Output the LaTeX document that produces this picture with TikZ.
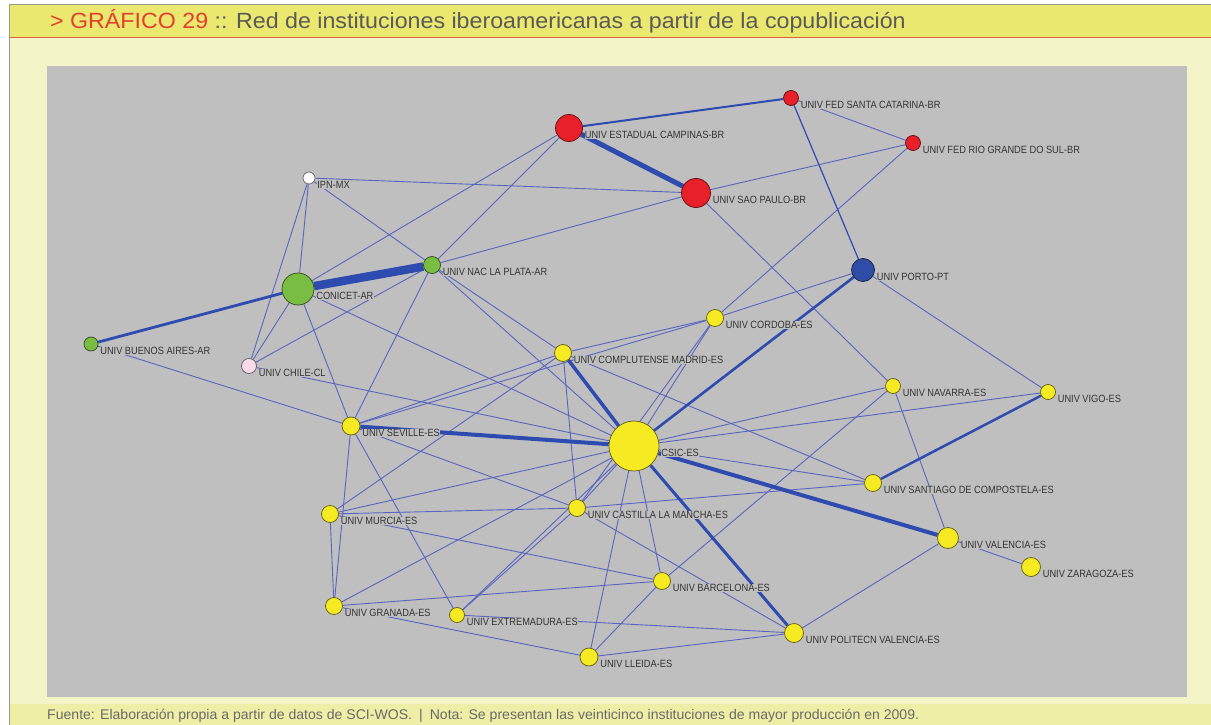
\documentclass[tikz,border=0pt]{standalone}
\usepackage{fontspec}
\setmainfont{Liberation Sans}
\newfontfamily\lblfont[FakeStretch=0.88]{Liberation Sans}
\newfontfamily\titlefont[FakeStretch=1.055]{Liberation Sans}
\newfontfamily\footfont[FakeStretch=1.005]{Liberation Sans}
\usetikzlibrary{calc}
\pgfdeclarelayer{bg}
\pgfdeclarelayer{edges}
\pgfsetlayers{bg,edges,main}
\definecolor{panel}{HTML}{BFBFBF}
\definecolor{cream}{HTML}{F4F4C9}
\definecolor{band}{HTML}{EAE86E}
\definecolor{footband}{HTML}{EFEEA6}
\definecolor{orangeline}{HTML}{D9603A}
\definecolor{framec}{HTML}{9A9A8C}
\definecolor{titlered}{HTML}{E2402F}
\definecolor{titlegray}{HTML}{5A5A5A}
\definecolor{footgray}{HTML}{6A6A6A}
\definecolor{lblc}{HTML}{333333}
\definecolor{thinc}{HTML}{5865BF}
\definecolor{thickc}{HTML}{2E4BB0}
\definecolor{ny}{HTML}{F6EA22}
\definecolor{nr}{HTML}{E8202A}
\definecolor{ng}{HTML}{79BE43}
\definecolor{nb}{HTML}{2E4DA6}
\definecolor{nw}{HTML}{FFFFFF}
\definecolor{np}{HTML}{F9DCE8}
\newcommand\inst[6]{%
  \node[inode,minimum size=#4pt,fill=#5,draw=#5!40!black] (#1) at (#2,#3) {};
  \node[lbl] (#1l) at ($(#1.east)+(1.5,7)$) {#6};}
\begin{document}
\begin{tikzpicture}[x=1pt,y=-1pt,
  inode/.style={circle,inner sep=0pt,line width=0.7pt},
  lbl/.style={anchor=west,fill=panel,inner sep=0.3pt,text=lblc,font=\lblfont\fontsize{10.5}{12}\selectfont},
  edge/.style={draw=thinc,line width=0.9pt},
  heavy/.style={draw=thickc,line width=#1},
]
\useasboundingbox (0,0) rectangle (1211,725);
% frame
\begin{pgfonlayer}{bg}
\fill[white] (0,0) rectangle (1211,725);
\fill[cream] (9,5) rectangle (1211,725);
\fill[band] (9,5) rectangle (1211,37);
\fill[footband] (9,704) rectangle (1211,725);
\draw[orangeline,line width=1.5pt] (9,37.5) -- (1211,37.5);
\draw[framec,line width=1pt] (9,725) -- (9,5) -- (1211,5);
\fill[panel] (47,66) rectangle (1187,697);
\end{pgfonlayer}
\node[anchor=west,inner sep=0] (title) at (50,21) {\titlefont\fontsize{22}{25}\selectfont\textcolor{titlered}{> GRÁFICO 29} \textcolor{titlegray}{:: Red de instituciones iberoamericanas a partir de la copublicación}};
\node[anchor=west,inner sep=0] (foot) at (47,716) {\footfont\fontsize{14}{16}\selectfont\color{footgray}Fuente: Elaboración propia a partir de datos de SCI-WOS.\hspace{7pt}|\hspace{7pt}Nota: Se presentan las veinticinco instituciones de mayor producción en 2009.};
% institutions
\inst{ipn}{309}{178}{12}{nw}{IPN-MX}
\inst{conicet}{298}{289}{32}{ng}{CONICET-AR}
\inst{laplata}{432}{265}{17}{ng}{UNIV NAC LA PLATA-AR}
\inst{ba}{91}{344}{14}{ng}{UNIV BUENOS AIRES-AR}
\inst{chile}{249}{366}{15}{np}{UNIV CHILE-CL}
\inst{campinas}{569}{128}{27}{nr}{UNIV ESTADUAL CAMPINAS-BR}
\inst{saopaulo}{696}{193}{29}{nr}{UNIV SAO PAULO-BR}
\inst{santacat}{791}{98}{15}{nr}{UNIV FED SANTA CATARINA-BR}
\inst{riogrande}{913}{143}{15}{nr}{UNIV FED RIO GRANDE DO SUL-BR}
\inst{porto}{863}{270}{23}{nb}{UNIV PORTO-PT}
\inst{cordoba}{715}{318}{17}{ny}{UNIV CORDOBA-ES}
\inst{complutense}{563}{353}{17}{ny}{UNIV COMPLUTENSE MADRID-ES}
\inst{navarra}{893}{386}{15}{ny}{UNIV NAVARRA-ES}
\inst{vigo}{1048}{392}{15}{ny}{UNIV VIGO-ES}
\inst{seville}{351}{426}{18}{ny}{UNIV SEVILLE-ES}
\inst{csic}{634}{446}{50}{ny}{CSIC-ES}
\inst{santiago}{873}{483}{17}{ny}{UNIV SANTIAGO DE COMPOSTELA-ES}
\inst{castilla}{577}{508}{17}{ny}{UNIV CASTILLA LA MANCHA-ES}
\inst{murcia}{330}{514}{17}{ny}{UNIV MURCIA-ES}
\inst{valencia}{948}{538}{21}{ny}{UNIV VALENCIA-ES}
\inst{zaragoza}{1031}{567}{19}{ny}{UNIV ZARAGOZA-ES}
\inst{barcelona}{662}{581}{17}{ny}{UNIV BARCELONA-ES}
\inst{granada}{334}{606}{17}{ny}{UNIV GRANADA-ES}
\inst{extremadura}{457}{615}{15}{ny}{UNIV EXTREMADURA-ES}
\inst{politecn}{794}{633}{19}{ny}{UNIV POLITECN VALENCIA-ES}
\inst{lleida}{589}{657}{18}{ny}{UNIV LLEIDA-ES}
% connectors
\begin{pgfonlayer}{edges}
\foreach \a/\b in {ipn/conicet, ipn/chile, ipn/saopaulo, ipn/laplata,
  conicet/chile, conicet/campinas, conicet/seville, conicet/csic,
  laplata/campinas, laplata/saopaulo, laplata/chile, laplata/seville, laplata/complutense, laplata/csic,
  chile/csic, ba/seville,
  saopaulo/riogrande, saopaulo/navarra, santacat/riogrande, riogrande/cordoba,
  porto/vigo, porto/cordoba,
  seville/complutense, seville/cordoba, seville/castilla, seville/extremadura, seville/granada,
  complutense/cordoba, complutense/castilla, complutense/santiago, complutense/murcia,
  cordoba/csic, cordoba/castilla,
  csic/navarra, csic/vigo, csic/santiago, csic/castilla, csic/murcia, csic/granada, csic/extremadura, csic/barcelona, csic/lleida,
  navarra/valencia, navarra/barcelona,
  castilla/santiago, castilla/murcia, castilla/extremadura, castilla/politecn,
  murcia/granada, murcia/barcelona, granada/barcelona, granada/lleida,
  extremadura/politecn, barcelona/lleida, lleida/politecn,
  valencia/zaragoza, valencia/politecn}
  {\draw[edge] (\a) -- (\b);}
\draw[heavy=8.5pt] (conicet) -- (laplata);
\draw[heavy=2.8pt] (conicet) -- (ba);
\draw[heavy=5pt] (campinas) -- (saopaulo);
\draw[heavy=2pt] (campinas) -- (santacat);
\draw[heavy=1.2pt] (santacat) -- (porto);
\draw[heavy=4pt] (csic) -- (seville);
\draw[heavy=3.5pt] (csic) -- (complutense);
\draw[heavy=2.6pt] (csic) -- (porto);
\draw[heavy=4pt] (csic) -- (valencia);
\draw[heavy=3pt] (csic) -- (politecn);
\draw[heavy=2.5pt] (santiago) -- (vigo);
\end{pgfonlayer}
\end{tikzpicture}
\end{document}
